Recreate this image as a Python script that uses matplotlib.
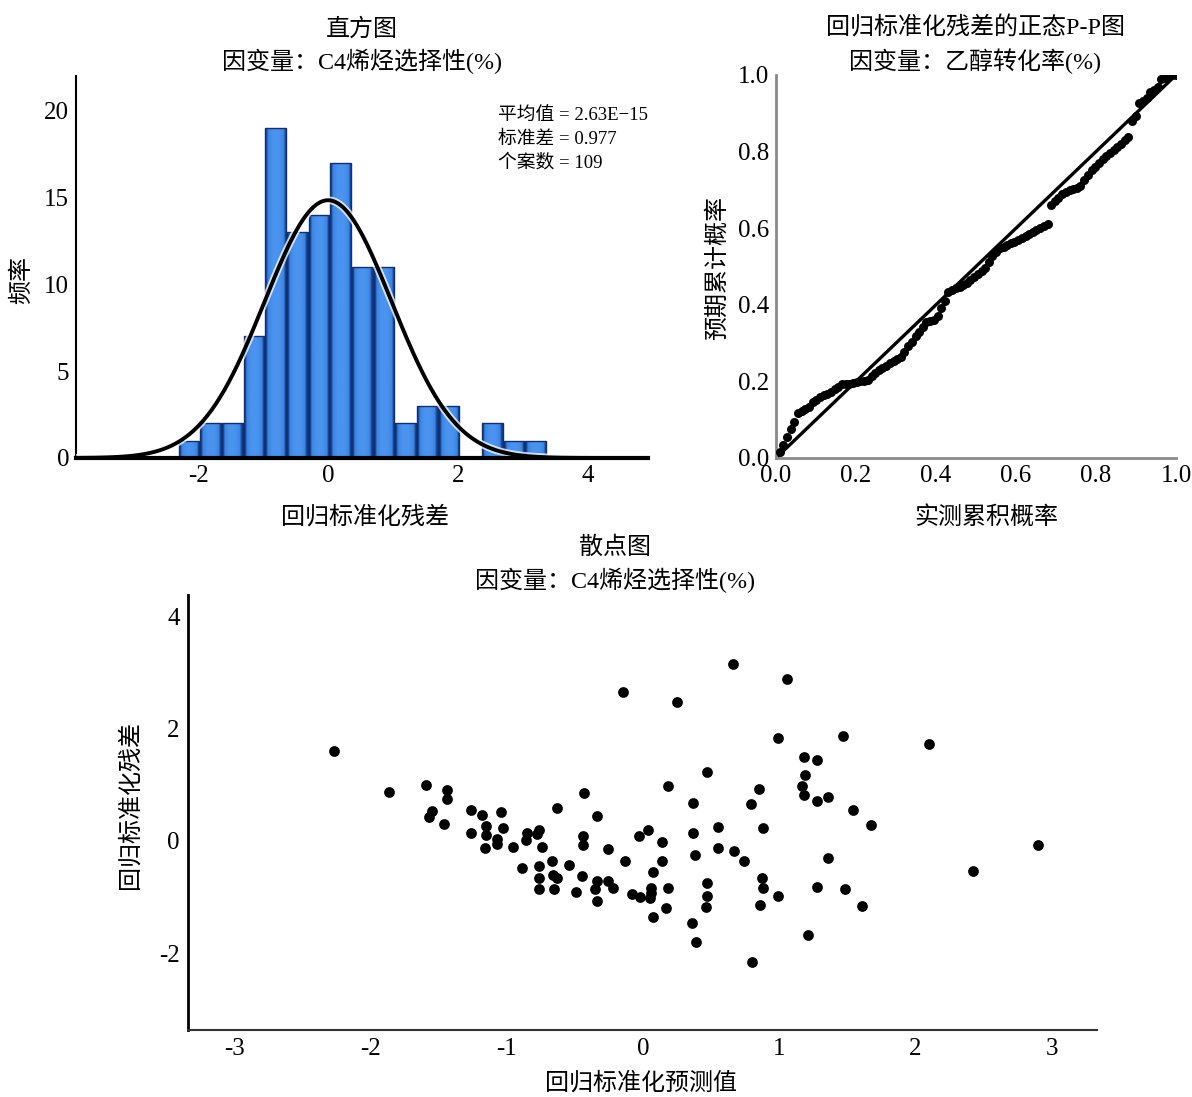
import matplotlib
matplotlib.use("Agg")
import matplotlib.pyplot as plt
import matplotlib.patheffects as pe
import numpy as np

plt.rcParams['font.family'] = ['Liberation Serif', 'Noto Sans CJK SC']
plt.rcParams['axes.unicode_minus'] = False

# ---- histogram data: standardized residuals ----
bin_edges = [-2.30, -1.97, -1.63, -1.30, -0.97, -0.63, -0.30, 0.03, 0.37,
             0.70, 1.03, 1.37, 1.70, 2.03, 2.37, 2.70, 3.03, 3.37]
counts = [1, 2, 2, 7, 19, 13, 14, 17, 11, 11, 2, 3, 3, 0, 2, 1, 1]
res_mean = 2.63e-15
res_sd = 0.977
n_cases = 109

# ---- P-P plot data ----
obs_cum = [0.009, 0.018, 0.028, 0.037, 0.046, 0.055, 0.064, 0.073, 0.083, 0.092,
           0.101, 0.110, 0.119, 0.128, 0.138, 0.147, 0.156, 0.165, 0.174, 0.183,
           0.193, 0.202, 0.211, 0.220, 0.229, 0.239, 0.248, 0.257, 0.266, 0.275,
           0.284, 0.294, 0.303, 0.312, 0.321, 0.330, 0.339, 0.349, 0.358, 0.367,
           0.376, 0.385, 0.394, 0.404, 0.413, 0.422, 0.431, 0.440, 0.450, 0.459,
           0.468, 0.477, 0.486, 0.495, 0.505, 0.514, 0.523, 0.532, 0.541, 0.550,
           0.560, 0.569, 0.578, 0.587, 0.596, 0.606, 0.615, 0.624, 0.633, 0.642,
           0.651, 0.661, 0.670, 0.679, 0.688, 0.697, 0.706, 0.716, 0.725, 0.734,
           0.743, 0.752, 0.761, 0.771, 0.780, 0.789, 0.798, 0.807, 0.817, 0.826,
           0.835, 0.844, 0.853, 0.862, 0.872, 0.881, 0.890, 0.899, 0.908, 0.917,
           0.927, 0.936, 0.945, 0.954, 0.963, 0.972, 0.982, 0.991, 1.000]
exp_cum = [0.015, 0.035, 0.055, 0.075, 0.095, 0.117, 0.122, 0.127, 0.133, 0.145,
           0.152, 0.158, 0.164, 0.168, 0.173, 0.179, 0.185, 0.192, 0.193, 0.193,
           0.196, 0.199, 0.200, 0.202, 0.204, 0.213, 0.222, 0.229, 0.235, 0.240,
           0.247, 0.254, 0.259, 0.263, 0.278, 0.292, 0.304, 0.318, 0.328, 0.342,
           0.355, 0.357, 0.360, 0.372, 0.392, 0.410, 0.434, 0.438, 0.443, 0.447,
           0.452, 0.457, 0.466, 0.473, 0.480, 0.488, 0.496, 0.512, 0.527, 0.538,
           0.547, 0.552, 0.557, 0.561, 0.564, 0.568, 0.574, 0.580, 0.586, 0.591,
           0.596, 0.600, 0.606, 0.612, 0.660, 0.670, 0.679, 0.688, 0.695, 0.700,
           0.702, 0.704, 0.710, 0.727, 0.739, 0.751, 0.761, 0.771, 0.780, 0.789,
           0.797, 0.805, 0.813, 0.821, 0.829, 0.838, 0.880, 0.893, 0.926, 0.932,
           0.940, 0.956, 0.962, 0.968, 0.990, 0.992, 0.998, 1.000, 1.000]

# ---- scatter data: standardized predicted vs standardized residual ----
pred = [-2.27, -1.86, -1.59, -1.44, -1.44, -1.55, -1.57, -1.46, -1.26, -1.18,
        -1.04, -1.26, -1.15, -1.15, -1.03, -1.07, -1.07, -1.16, -0.95, -0.85,
        -0.86, -0.76, -0.78, -0.74, -0.89, -0.67, -0.76, -0.76, -0.66, -0.63,
        -0.76, -0.65, -0.54, -0.63, -0.43, -0.34, -0.44, -0.44, -0.26, -0.45,
        -0.49, -0.34, -0.35, -0.26, -0.22, -0.34,
        -0.15, 0.66, 1.06, 0.25, 0.99, 1.47, 2.10, 1.18, 1.28, 1.19,
        1.17, 1.18, 1.28, 1.36, 1.54, 1.67, 0.47, 0.18, 0.85, 0.37,
        0.79, 0.04, -0.03, 0.14, 0.37, 0.55, 0.88, -0.13, 0.14, 0.07,
        0.38, 0.55, 0.67, 0.74, 1.36, 2.90, 2.42, -0.08, -0.02, 0.06,
        0.05, 0.18, 0.17, 0.07, 0.47, 0.47, 0.46, 0.36, 0.39, 0.87,
        0.88, 0.99, 0.86, 1.28, 1.48, 1.61, 1.21, 0.80, 0.06]
resid = [1.61, 0.88, 1.00, 0.90, 0.75, 0.54, 0.42, 0.30, 0.55, 0.47,
         0.51, 0.15, 0.27, 0.11, 0.24, 0.03, -0.05, -0.13, -0.10, 0.15,
         0.02, 0.20, 0.12, -0.10, -0.48, -0.35, -0.44, -0.65, -0.61, -0.65,
         -0.86, -0.86, -0.43, 0.59, 0.85, 0.45, 0.08, -0.07, -0.14, -0.62,
         -0.90, -0.71, -0.86, -0.71, -0.84, -1.06,
         2.65, 3.15, 2.88, 2.47, 1.83, 1.87, 1.73, 1.49, 1.45, 1.17,
         0.97, 0.81, 0.71, 0.78, 0.55, 0.28, 1.23, 0.97, 0.93, 0.68,
         0.65, 0.19, 0.09, -0.01, 0.15, 0.25, 0.23, -0.36, -0.36, -0.55,
         -0.25, -0.12, -0.17, -0.35, -0.31, -0.08, -0.54, -0.94, -1.00, -0.84,
         -1.02, -0.84, -1.20, -1.35, -0.75, -0.98, -1.17, -1.46, -1.80, -0.65,
         -0.83, -0.97, -1.14, -0.82, -0.86, -1.16, -1.67, -2.16, -0.93]

fig = plt.figure(figsize=(11.92, 10.97), dpi=100)
W, H = 1192, 1097


def axes_px(l, t, r, b):
    return fig.add_axes([l / W, 1 - b / H, (r - l) / W, (b - t) / H])


def px_text(x, y, s, **kw):
    fig.text(x / W, 1 - y / H, s, ha='center', va='center', **kw)


fs = 17.3    # titles and axis labels
tfs = 18     # tick labels

# ================= histogram =================
ax1 = axes_px(76, 76, 648, 458)
widths = np.diff(bin_edges)
bars = ax1.bar(bin_edges[:-1], counts, width=widths * 0.955, align='edge',
               color='#3f8ae6', edgecolor='none', zorder=2)
bar_cmap = matplotlib.colors.LinearSegmentedColormap.from_list(
    'bar', ['#143c8c', '#3a84e2', '#4a93ee'])
grad = np.array([[0.0, 0.5, 0.8, 0.95, 1.0, 1.0, 0.95, 0.8, 0.5, 0.0]])
for b in bars:
    if b.get_height() <= 0:
        continue
    x0, y0 = b.get_x(), b.get_y()
    im = ax1.imshow(grad, cmap=bar_cmap, aspect='auto', interpolation='bilinear',
                    extent=[x0, x0 + b.get_width(), y0, y0 + b.get_height()], zorder=2.1)
    im.set_clip_path(b)
    ax1.add_patch(plt.Rectangle((x0, y0), b.get_width(), b.get_height(),
                                fill=False, edgecolor='#123070', linewidth=1.0, zorder=2.2))

xs = np.linspace(-3.9, 4.95, 400)
curve = n_cases * widths.mean() * np.exp(-0.5 * ((xs - res_mean) / res_sd) ** 2) / (res_sd * np.sqrt(2 * np.pi))
ax1.plot(xs, curve, color='black', linewidth=2.8, zorder=3,
         path_effects=[pe.Stroke(linewidth=5.5, foreground='white', alpha=0.75), pe.Normal()])

ax1.set_xlim(-3.877, 4.92)
ax1.set_ylim(0, 22)
ax1.set_xticks([-2, 0, 2, 4])
ax1.set_yticks([0, 5, 10, 15, 20])
ax1.tick_params(length=0, labelsize=tfs, pad=5)
for s in ['top', 'right']:
    ax1.spines[s].set_visible(False)
ax1.spines['left'].set_linewidth(1.5)
ax1.spines['bottom'].set_linewidth(3)
ax1.spines['bottom'].set_zorder(4)

stats = ["平均值 = 2.63E\u221215", "标准差 = 0.977", "个案数 = 109"]
for i, s in enumerate(stats):
    fig.text(498 / W, 1 - (115 + 24 * i) / H, s, ha='left', va='center', fontsize=13.5)

px_text(362, 30, "直方图", fontsize=fs)
px_text(362, 61, "因变量：C4烯烃选择性(%)", fontsize=fs)
px_text(365, 517, "回归标准化残差", fontsize=fs)
px_text(22, 280, "频率", fontsize=fs, rotation=90)

# ================= P-P plot =================
ax2 = axes_px(776, 75, 1176, 458)
ax2.plot([0, 1], [0, 1], color='black', linewidth=2.4, zorder=2)
ax2.scatter(obs_cum, exp_cum, s=42, color='black', zorder=3, linewidths=0)
ax2.set_xlim(0, 1)
ax2.set_ylim(0, 1)
ax2.set_xticks([0, 0.2, 0.4, 0.6, 0.8, 1.0])
ax2.set_yticks([0, 0.2, 0.4, 0.6, 0.8, 1.0])
ax2.xaxis.set_major_formatter(matplotlib.ticker.FormatStrFormatter('%.1f'))
ax2.yaxis.set_major_formatter(matplotlib.ticker.FormatStrFormatter('%.1f'))
ax2.tick_params(length=0, labelsize=tfs, pad=5)
for s in ['top', 'right']:
    ax2.spines[s].set_visible(False)
for s in ['left', 'bottom']:
    ax2.spines[s].set_color('#8a8a8a')
    ax2.spines[s].set_linewidth(2)

px_text(975, 28, "回归标准化残差的正态P-P图", fontsize=fs)
px_text(975, 61, "因变量：乙醇转化率(%)", fontsize=fs)
px_text(986, 517, "实测累积概率", fontsize=fs)
px_text(718, 268, "预期累计概率", fontsize=fs, rotation=90)

# ================= scatter =================
ax3 = axes_px(188, 595, 1097, 1030)
ax3.scatter(pred, resid, s=60, color='black', zorder=3, linewidths=0)
ax3.set_xlim(-3.338, 3.331)
ax3.set_ylim(-3.363, 4.377)
ax3.set_xticks([-3, -2, -1, 0, 1, 2, 3])
ax3.set_yticks([-2, 0, 2, 4])
ax3.tick_params(length=0, labelsize=tfs, pad=6)
for s in ['top', 'right']:
    ax3.spines[s].set_visible(False)
ax3.spines['left'].set_linewidth(2)
ax3.spines['bottom'].set_linewidth(1.5)
ax3.spines['bottom'].set_color('#333333')

px_text(615, 548, "散点图", fontsize=fs)
px_text(615, 580, "因变量：C4烯烃选择性(%)", fontsize=fs)
px_text(641, 1083, "回归标准化预测值", fontsize=fs)
px_text(130, 805, "回归标准化残差", fontsize=fs, rotation=90)

fig.savefig("out.png", dpi=100, facecolor='white')
